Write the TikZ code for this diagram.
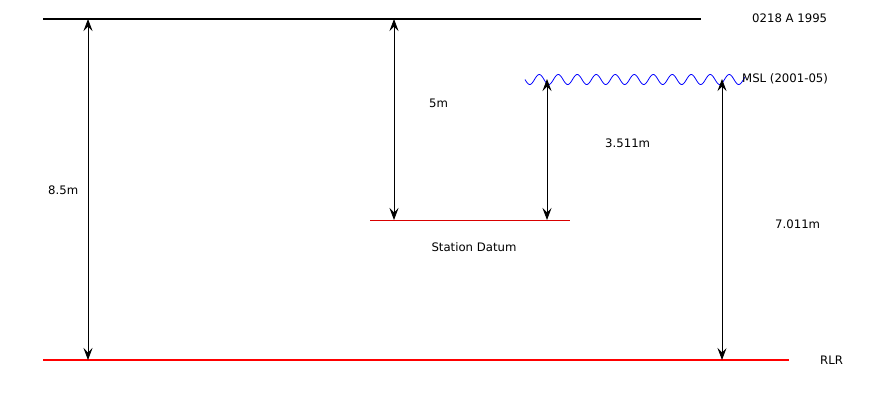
\documentclass[tikz,border=0pt]{standalone}
\usepackage{fontspec}
\setmainfont{DejaVu Sans}
\usetikzlibrary{arrows.meta}
\begin{document}
\begin{tikzpicture}[x=1pt,y=-1pt,
  lbl/.style={inner sep=0pt,font=\fontsize{11.7}{14}\selectfont},
  dim/.style={line width=0.8pt,{Stealth[length=12pt,width=9pt,inset=4.5pt]}-{Stealth[length=12pt,width=9pt,inset=4.5pt]}},
  level/.style={line width=1.8pt}]
\useasboundingbox (0,0) rectangle (875,400);
% levels
\coordinate (tl) at (43,19); \coordinate (tr) at (701,19);
\coordinate (bl) at (43,360); \coordinate (br) at (789,360);
\coordinate (sl) at (370,220); \coordinate (sr) at (570,220);
\draw[level,black] (tl) -- (tr);
\draw[level,red] (bl) -- (br);
\draw[line width=0.9pt,red!85!black] (sl) -- (sr);
\draw[blue,line width=0.8pt] plot[domain=0:220,samples=300,smooth] ({\x+525},{79.5+5*sin(18.95*\x)});
% dimension end points
\coordinate (a1) at (88,19);  \coordinate (a2) at (88,360);
\coordinate (b1) at (394,19); \coordinate (b2) at (394,220);
\coordinate (c1) at (547,79); \coordinate (c2) at (547,220);
\coordinate (d1) at (722,79); \coordinate (d2) at (722,360);
\draw[dim] (a1) -- (a2);
\draw[dim] (b1) -- (b2);
\draw[dim] (c1) -- (c2);
\draw[dim] (d1) -- (d2);
% labels
\node[lbl,anchor=west] (t1) at (752,18) {0218 A 1995};
\node[lbl,anchor=west] (t2) at (742,79) {MSL (2001-05)};
\node[lbl,anchor=west] (t3) at (820,360) {RLR};
\node[lbl] (t4) at (474,247) {Station Datum};
\node[lbl,anchor=west] (t5) at (48,190) {8.5m};
\node[lbl,anchor=west] (t6) at (429,103) {5m};
\node[lbl,anchor=west] (t7) at (605,143) {3.511m};
\node[lbl,anchor=west] (t8) at (775,224) {7.011m};
\end{tikzpicture}
\end{document}
